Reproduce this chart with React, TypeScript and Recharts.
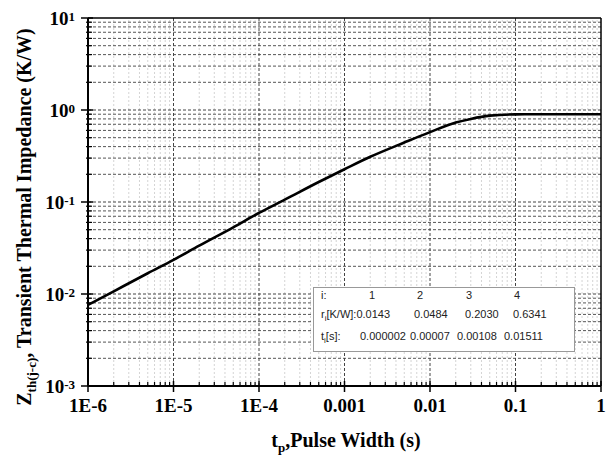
import { Line, LineChart, ReferenceLine, XAxis, YAxis } from "recharts"

// values
const pulseWidth = [1e-6, 2e-6, 5e-6, 1e-5, 2e-5, 5e-5, 1e-4, 2e-4, 5e-4, 1e-3, 2e-3, 5e-3, 1e-2, 2e-2, 3e-2, 5e-2, 0.1, 0.2, 0.5, 1]
const impedance = [0.0076, 0.0107, 0.0168, 0.0235, 0.0335, 0.053, 0.076, 0.106, 0.165, 0.227, 0.31, 0.443, 0.575, 0.73, 0.8, 0.868, 0.897, 0.9, 0.9, 0.9]

const xMajor = [1e-6, 1e-5, 1e-4, 1e-3, 1e-2, 1e-1, 1]
const xLabels = ["1E-6", "1E-5", "1E-4", "0.001", "0.01", "0.1", "1"]
const yMajor = [1e-3, 1e-2, 1e-1, 1, 10]
const yExponents = ["-3", "-2", "-1", "0", "1"]
const minorSteps = [2, 3, 4, 5, 6, 7, 8, 9]

// foster network table
const stageIndex = ["1", "2", "3", "4"]
const stageR = ["0.0143", "0.0484", "0.2030", "0.6341"]
const stageTau = ["0.000002", "0.00007", "0.00108", "0.01511"]

const data = pulseWidth.map((t, i) => ({ t, z: impedance[i] }))

const minorsOf = (majors: number[]) => majors.slice(0, -1).flatMap((d) => minorSteps.map((m) => m * d))
const xMinor = minorsOf(xMajor)
const yMinor = minorsOf(yMajor)

const serif = "'Liberation Serif', 'Times New Roman', serif"
const sans = "'Liberation Sans', Arial, sans-serif"

function XTick(props: any) {
  const { x, y, payload } = props
  const idx = xMajor.indexOf(payload.value)
  if (idx < 0) {
    return <line x1={x} x2={x} y1={y - 4} y2={y + 1} stroke="#000" strokeWidth={1.2} />
  }
  return (
    <g>
      <line x1={x} x2={x} y1={y - 5} y2={y + 6} stroke="#000" strokeWidth={1.5} />
      <text x={x} y={y + 26} textAnchor="middle" fontFamily={serif} fontWeight="bold" fontSize={19} fill="#000">
        {xLabels[idx]}
      </text>
    </g>
  )
}

function YTick(props: any) {
  const { x, y, payload } = props
  const idx = yMajor.indexOf(payload.value)
  if (idx < 0) {
    return <line x1={x - 2} x2={x + 4} y1={y} y2={y} stroke="#000" strokeWidth={1.2} />
  }
  return (
    <g>
      <line x1={x - 7} x2={x + 5} y1={y} y2={y} stroke="#000" strokeWidth={1.5} />
      <text x={x - 13} y={y + 7} textAnchor="end" fontFamily={serif} fontWeight="bold" fontSize={19} fill="#000">
        10
        <tspan fontSize={13} dy={-4}>{yExponents[idx]}</tspan>
      </text>
    </g>
  )
}

export default function App() {
  return (
    <div style={{ position: "absolute", left: 0, top: 0, width: 606, height: 457, background: "#fff" }}>
      <LineChart width={606} height={457} data={data} margin={{ top: 18, right: 5, bottom: 41, left: 28 }}>
        {xMinor.map((v) => (
          <ReferenceLine key={"xm" + v} x={v} stroke="#d4d4d4" strokeDasharray="2 2" strokeWidth={1} />
        ))}
        {yMinor.map((v) => (
          <ReferenceLine key={"ym" + v} y={v} stroke="#555" strokeDasharray="3 2" strokeWidth={1} />
        ))}
        {yMajor.slice(1, -1).map((v) => (
          <ReferenceLine key={"yM" + v} y={v} stroke="#444" strokeDasharray="3 2" strokeWidth={1} />
        ))}
        {xMajor.slice(1, -1).map((v) => (
          <ReferenceLine key={"xM" + v} x={v} stroke="#444" strokeDasharray="3 2" strokeWidth={1} />
        ))}
        <ReferenceLine y={10} stroke="#000" strokeWidth={1.5} />
        <ReferenceLine x={1} stroke="#000" strokeWidth={1.5} />
        <XAxis
          dataKey="t"
          type="number"
          scale="log"
          domain={[1e-6, 1]}
          ticks={[...xMajor, ...xMinor]}
          interval={0}
          allowDataOverflow
          height={30}
          tickSize={0}
          tickMargin={0}
          tickLine={false}
          axisLine={{ stroke: "#000", strokeWidth: 2 }}
          tick={(p: any) => <XTick {...p} />}
        />
        <YAxis
          type="number"
          scale="log"
          domain={[1e-3, 10]}
          ticks={[...yMajor, ...yMinor]}
          interval={0}
          allowDataOverflow
          width={60}
          tickSize={0}
          tickMargin={0}
          tickLine={false}
          axisLine={{ stroke: "#000", strokeWidth: 2 }}
          tick={(p: any) => <YTick {...p} />}
        />
        <Line dataKey="z" type="monotone" stroke="#000" strokeWidth={2.6} dot={false} isAnimationActive={false} />
      </LineChart>

      <svg width={606} height={457} style={{ position: "absolute", left: 0, top: 0, pointerEvents: "none" }}>
        <text x={346} y={447} textAnchor="middle" fontFamily={serif} fontWeight="bold" fontSize={20} fill="#000">
          t<tspan fontSize={13} dy={5}>p</tspan>
          <tspan dy={-5}>,Pulse Width (s)</tspan>
        </text>
        <text
          transform="translate(31 217) rotate(-90)"
          textAnchor="middle"
          fontFamily={serif}
          fontWeight="bold"
          fontSize={20}
          fill="#000"
        >
          Z<tspan fontSize={13} dy={5}>th(j-c)</tspan>
          <tspan dy={-5}>, Transient Thermal Impedance (K/W)</tspan>
        </text>
      </svg>

      <div
        style={{
          position: "absolute",
          left: 313,
          top: 287,
          width: 262,
          height: 65,
          boxSizing: "border-box",
          border: "1px solid #999",
          background: "#fff",
          fontFamily: sans,
          fontSize: 11,
          color: "#222",
        }}
      >
        <span style={{ position: "absolute", left: 7, top: 1 }}>i:</span>
        {stageIndex.map((s, i) => (
          <span key={s} style={{ position: "absolute", left: [55, 103, 152, 200][i], top: 1 }}>
            {s}
          </span>
        ))}
        <span style={{ position: "absolute", left: 7, top: 20 }}>
          r<sub style={{ fontSize: 8 }}>i</sub>[K/W]:{stageR[0]}
        </span>
        {stageR.slice(1).map((s, i) => (
          <span key={s} style={{ position: "absolute", left: [100, 151, 199][i], top: 20 }}>
            {s}
          </span>
        ))}
        <span style={{ position: "absolute", left: 7, top: 42 }}>
          t<sub style={{ fontSize: 8 }}>i</sub>[s]:
        </span>
        {stageTau.map((s, i) => (
          <span key={s} style={{ position: "absolute", left: [46, 96, 143, 190][i], top: 42 }}>
            {s}
          </span>
        ))}
      </div>
    </div>
  )
}
